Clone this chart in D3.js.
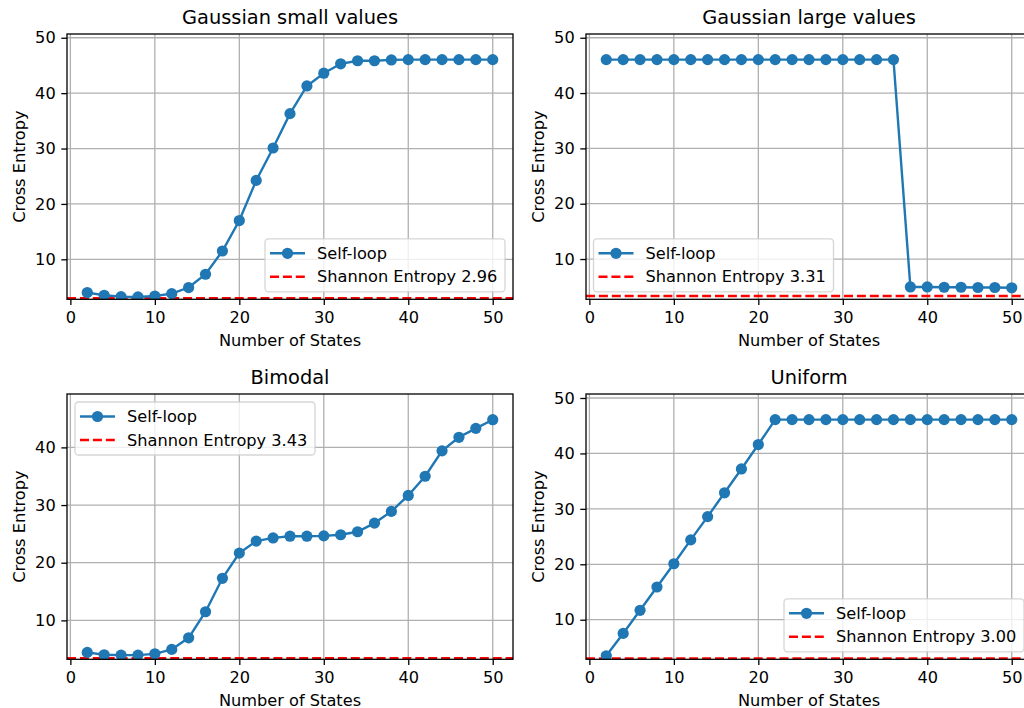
<!DOCTYPE html>
<html>
<head>
<meta charset="utf-8">
<script src="https://cdn.jsdelivr.net/npm/d3@7"></script>
<style>
  body { margin: 0; background: #fff; }
  svg { display: block; font-family: "DejaVu Sans", sans-serif; }
</style>
</head>
<body>
<div id="chart"></div>
<script>
const width = 1024;
const height = 708;

// data
const states = [2, 4, 6, 8, 10, 12, 14, 16, 18, 20, 22, 24, 26, 28, 30, 32, 34, 36, 38, 40, 42, 44, 46, 48, 50];
const gaussSmall = [4.0, 3.5, 3.27, 3.2, 3.38, 3.8, 4.9, 7.3, 11.5, 17.0, 24.25, 30.1, 36.3, 41.3, 43.6, 45.3, 45.85, 45.85, 46.0, 46.05, 46.05, 46.05, 46.05, 46.05, 46.05];
const gaussLarge = [46.05, 46.05, 46.05, 46.05, 46.05, 46.05, 46.05, 46.05, 46.05, 46.05, 46.05, 46.05, 46.05, 46.05, 46.05, 46.05, 46.05, 46.05, 4.95, 4.95, 4.9, 4.9, 4.85, 4.85, 4.8];
const bimodal = [4.45, 4.04, 3.98, 3.98, 4.2, 4.97, 6.98, 11.5, 17.3, 21.67, 23.75, 24.3, 24.6, 24.6, 24.65, 24.85, 25.37, 26.87, 28.9, 31.67, 35.0, 39.4, 41.75, 43.3, 44.8];
const uniform = [3.5, 7.53, 11.7, 15.9, 20.1, 24.4, 28.6, 32.9, 37.2, 41.6, 46.1, 46.1, 46.1, 46.1, 46.1, 46.1, 46.1, 46.1, 46.1, 46.1, 46.1, 46.1, 46.1, 46.1, 46.1];
const shannon = [2.96, 3.31, 3.43, 3.00];
const titles = ["Gaussian small values", "Gaussian large values", "Bimodal", "Uniform"];
const xTicks = [0, 10, 20, 30, 40, 50];
const yTicks = [10, 20, 30, 40, 50];

const blue = "#1f77b4";
const red = "#ff0000";
const fontSize = 16.2;

const panels = [
  { series: gaussSmall, left: 67, top: 34, ylim: [2.78, 50.68], legend: "lr" },
  { series: gaussLarge, left: 586, top: 34, ylim: [2.72, 50.68], legend: "ll" },
  { series: bimodal, left: 67, top: 394, ylim: [3.25, 49.26], legend: "ul" },
  { series: uniform, left: 586, top: 394, ylim: [2.86, 50.72], legend: "lr" }
];
const aw = 446, ah = 265.3;

const svg = d3.select("#chart").append("svg")
  .attr("width", width)
  .attr("height", height);

svg.append("rect").attr("width", width).attr("height", height).attr("fill", "#fff");

panels.forEach((p, i) => {
  const g = svg.append("g").attr("transform", `translate(${p.left},${p.top})`);

  const x = d3.scaleLinear().domain([-0.4, 52.4]).range([0, aw]);
  const y = d3.scaleLinear().domain(p.ylim).range([ah, 0]);

  const clipId = "clip" + i;
  g.append("clipPath").attr("id", clipId)
    .append("rect").attr("width", aw).attr("height", ah);

  // grid
  const grid = g.append("g");
  grid.selectAll(".gx").data(xTicks).enter().append("line")
    .attr("x1", d => x(d)).attr("x2", d => x(d))
    .attr("y1", 0).attr("y2", ah)
    .attr("stroke", "#b0b0b0").attr("stroke-width", 1.3);
  const yt = yTicks.filter(d => d >= p.ylim[0] && d <= p.ylim[1]);
  grid.selectAll(".gy").data(yt).enter().append("line")
    .attr("x1", 0).attr("x2", aw)
    .attr("y1", d => y(d)).attr("y2", d => y(d))
    .attr("stroke", "#b0b0b0").attr("stroke-width", 1.3);

  const plot = g.append("g").attr("clip-path", `url(#${clipId})`);

  // shannon entropy line
  plot.append("line")
    .attr("x1", 0).attr("x2", aw)
    .attr("y1", y(shannon[i])).attr("y2", y(shannon[i]))
    .attr("stroke", red).attr("stroke-width", 2.4)
    .attr("stroke-dasharray", "9,3.9");

  const pts = states.map((s, j) => [s, p.series[j]]);
  const line = d3.line().x(d => x(d[0])).y(d => y(d[1]));
  plot.append("path").datum(pts)
    .attr("d", line)
    .attr("fill", "none")
    .attr("stroke", blue)
    .attr("stroke-width", 2.4);
  plot.selectAll(".dot").data(pts).enter().append("circle")
    .attr("cx", d => x(d[0])).attr("cy", d => y(d[1]))
    .attr("r", 5.6).attr("fill", blue);

  // axes
  const xa = g.append("g").attr("transform", `translate(0,${ah})`)
    .call(d3.axisBottom(x).tickValues(xTicks).tickSize(5.7).tickPadding(6.5).tickFormat(d3.format("d")));
  const ya = g.append("g")
    .call(d3.axisLeft(y).tickValues(yt).tickSize(5.7).tickPadding(5.6).tickFormat(d3.format("d")));
  [xa, ya].forEach(a => {
    a.select(".domain").remove();
    a.selectAll("line").attr("stroke", "#000").attr("stroke-width", 1.3);
    a.selectAll("text").attr("fill", "#000")
      .style("font-size", fontSize + "px")
      .style("font-family", "DejaVu Sans, sans-serif");
  });

  // spines
  g.append("rect").attr("width", aw).attr("height", ah)
    .attr("fill", "none").attr("stroke", "#000").attr("stroke-width", 1.3);

  // titles and labels
  g.append("text").attr("x", aw / 2).attr("y", -10)
    .attr("text-anchor", "middle")
    .style("font-size", "19.4px")
    .text(titles[i]);
  g.append("text").attr("x", aw / 2).attr("y", ah + 46.5)
    .attr("text-anchor", "middle")
    .style("font-size", fontSize + "px")
    .text("Number of States");
  g.append("text")
    .attr("transform", `translate(-42,${ah / 2}) rotate(-90)`)
    .attr("text-anchor", "middle")
    .style("font-size", fontSize + "px")
    .text("Cross Entropy");

  // legend
  const lw = 240, lh = 53;
  let lx, ly;
  if (p.legend === "lr") { lx = aw - 8 - lw; ly = ah - 7.5 - lh; }
  else if (p.legend === "ll") { lx = 7.5; ly = ah - 7.5 - lh; }
  else { lx = 8; ly = 8; }
  const lg = g.append("g").attr("transform", `translate(${lx},${ly})`);
  lg.append("rect").attr("width", lw).attr("height", lh)
    .attr("rx", 3.5)
    .attr("fill", "rgba(255,255,255,0.8)")
    .attr("stroke", "rgba(204,204,204,0.8)")
    .attr("stroke-width", 1.3);
  lg.append("line").attr("x1", 5).attr("x2", 40).attr("y1", 14.5).attr("y2", 14.5)
    .attr("stroke", blue).attr("stroke-width", 2.4);
  lg.append("circle").attr("cx", 22.5).attr("cy", 14.5).attr("r", 5.6).attr("fill", blue);
  lg.append("text").attr("x", 52).attr("y", 14.5).attr("dy", "0.35em")
    .style("font-size", fontSize + "px").text("Self-loop");
  lg.append("line").attr("x1", 5).attr("x2", 40).attr("y1", 38).attr("y2", 38)
    .attr("stroke", red).attr("stroke-width", 2.4).attr("stroke-dasharray", "9,3.9");
  lg.append("text").attr("x", 52).attr("y", 38).attr("dy", "0.35em")
    .style("font-size", fontSize + "px").text("Shannon Entropy " + shannon[i].toFixed(2));
});
</script>
</body>
</html>
